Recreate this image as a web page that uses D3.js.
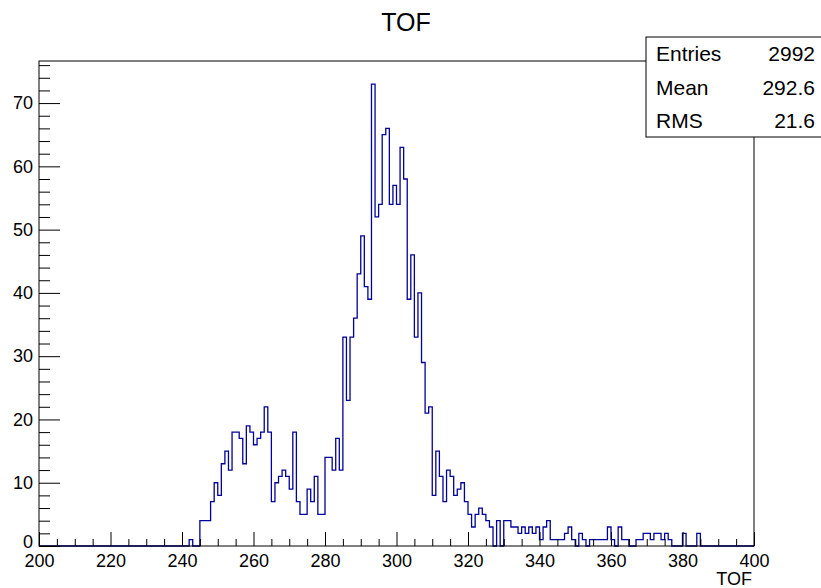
<!DOCTYPE html>
<html>
<head>
<meta charset="utf-8">
<script src="https://cdn.jsdelivr.net/npm/d3@7"></script>
<style>
  html, body { margin: 0; padding: 0; background: #fff; }
  svg { display: block; font-family: "Liberation Sans", Arial, Helvetica, sans-serif; }
</style>
</head>
<body>
<svg id="chart" width="821" height="588"></svg>
<script>
// histogram "TOF": 200 bins of width 1 from 200 to 400
const histTitle = "TOF";
const xTitle = "TOF";
const xRange = [200, 400];
const yMax = 76.65;

// one row per 20 bins
const tofCounts = [
  0, 0, 0, 0, 0, 0, 0, 0, 0, 0, 0, 0, 0, 0, 0, 0, 0, 0, 0, 0,           // 200-219
  0, 0, 0, 0, 0, 0, 0, 0, 0, 0, 0, 0, 0, 0, 0, 0, 0, 0, 0, 0,           // 220-239
  0, 0, 1, 0, 0, 4, 4, 4, 7, 10, 8, 13, 15, 12, 18, 18, 17, 13, 19, 18, // 240-259
  16, 17, 18, 22, 18, 7, 10, 11, 12, 11, 9, 18, 7, 5, 5, 9, 7, 11, 5, 5, // 260-279
  14, 14, 12, 17, 12, 33, 23, 33, 36, 43, 49, 41, 39, 73, 52, 54, 65, 66, 54, 57, // 280-299
  54, 63, 58, 39, 46, 33, 40, 29, 21, 22, 8, 15, 11, 7, 12, 11, 8, 9, 10, 7, // 300-319
  5, 3, 5, 6, 5, 4, 3, 0, 4, 0, 4, 4, 3, 3, 2, 3, 2, 3, 2, 3,           // 320-339
  1, 3, 4, 1, 1, 1, 1, 2, 3, 1, 0, 2, 1, 0, 1, 1, 1, 1, 1, 3,           // 340-359
  1, 0, 3, 1, 1, 0, 0, 1, 1, 2, 2, 1, 2, 2, 1, 2, 1, 0, 0, 0,           // 360-379
  2, 0, 0, 0, 2, 0, 0, 0, 0, 0, 0, 0, 0, 0, 0, 0, 0, 0, 0, 0            // 380-399
];

const xMajorTicks = [200, 220, 240, 260, 280, 300, 320, 340, 360, 380, 400];
const yMajorTicks = [0, 10, 20, 30, 40, 50, 60, 70];
const statLabels = ["Entries", "Mean", "RMS"];
const statValues = ["2992", "292.6", "21.6"];

const svg = d3.select("#chart");
const frame = {left: 39, right: 754, top: 61, bottom: 546};
const lineColor = "#00009a";

const x = d3.scaleLinear().domain(xRange).range([frame.left, frame.right]);
const y = d3.scaleLinear().domain([0, yMax]).range([frame.bottom, frame.top]);

// histogram outline
const binWidth = (xRange[1] - xRange[0]) / tofCounts.length;
const pts = tofCounts.map((c, i) => ({x: xRange[0] + i * binWidth, y: c}));
pts.push({x: xRange[1], y: tofCounts[tofCounts.length - 1]});
const step = d3.line()
  .curve(d3.curveStepAfter)
  .x(d => x(d.x))
  .y(d => y(d.y));

svg.append("path")
  .attr("d", step([{x: xRange[0], y: 0}].concat(pts)))
  .attr("fill", "none")
  .attr("stroke", lineColor)
  .attr("stroke-width", 1.3);

// frame
svg.append("rect")
  .attr("x", frame.left).attr("y", frame.top)
  .attr("width", frame.right - frame.left).attr("height", frame.bottom - frame.top)
  .attr("fill", "none").attr("stroke", "#000").attr("stroke-width", 1);

// x axis, ticks pointing up
const xMinor = d3.range(xRange[0], xRange[1] + 1, 5).filter(v => v % 20 !== 0);
const gxMinor = svg.append("g").attr("transform", `translate(0,${frame.bottom})`)
  .call(d3.axisBottom(x).tickValues(xMinor).tickSize(-7).tickFormat(""));
const gx = svg.append("g").attr("transform", `translate(0,${frame.bottom})`)
  .call(d3.axisBottom(x).tickValues(xMajorTicks).tickSize(-14).tickPadding(8).tickFormat(d3.format("d")));

// y axis, ticks pointing right
const yMinor = d3.range(0, yMax, 2).filter(v => v % 10 !== 0);
const gyMinor = svg.append("g").attr("transform", `translate(${frame.left},0)`)
  .call(d3.axisLeft(y).tickValues(yMinor).tickSize(-11).tickFormat(""));
const gy = svg.append("g").attr("transform", `translate(${frame.left},0)`)
  .call(d3.axisLeft(y).tickValues(yMajorTicks).tickSize(-21).tickPadding(6).tickFormat(d3.format("d")));

[gxMinor, gx, gyMinor, gy].forEach(g => {
  g.select(".domain").remove();
  g.selectAll("line").attr("stroke", "#000").attr("stroke-width", 1);
  g.selectAll("text").attr("fill", "#000").style("font-size", "18px")
    .style("font-family", "'Liberation Sans', Arial, sans-serif");
});
// the "0" label sits just above the x labels
gy.selectAll(".tick").filter(d => d === 0).select("text").attr("dy", "0.1em");

// titles
svg.append("text")
  .attr("x", 406).attr("y", 31)
  .attr("text-anchor", "middle")
  .style("font-size", "25px")
  .text(histTitle);

svg.append("text")
  .attr("x", frame.right - 2).attr("y", 585)
  .attr("text-anchor", "end")
  .style("font-size", "18px")
  .text(xTitle);

// stats box
const box = {x: 646, y: 37, w: 180, h: 100};
svg.append("rect")
  .attr("x", box.x).attr("y", box.y).attr("width", box.w).attr("height", box.h)
  .attr("fill", "#fff").attr("stroke", "#000").attr("stroke-width", 1);

const rowH = box.h / statLabels.length;
statLabels.forEach((lab, i) => {
  const by = box.y + rowH * i + rowH / 2 + 7.5;
  svg.append("text").attr("x", box.x + 10).attr("y", by)
    .style("font-size", "21px").text(lab);
  svg.append("text").attr("x", 815).attr("y", by)
    .attr("text-anchor", "end")
    .style("font-size", "21px").text(statValues[i]);
});
</script>
</body>
</html>
